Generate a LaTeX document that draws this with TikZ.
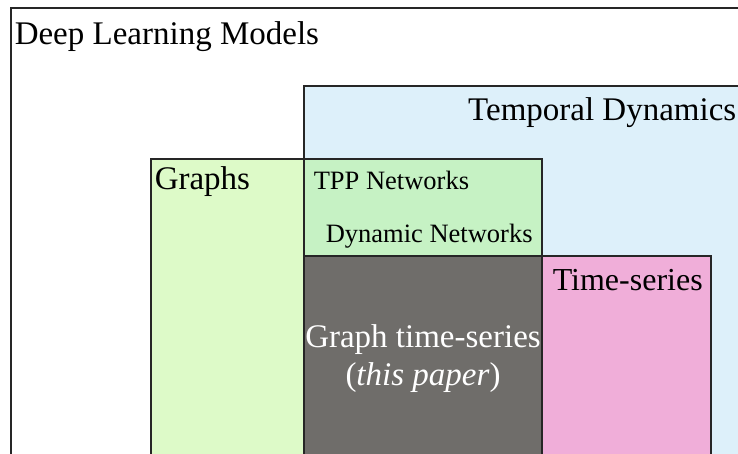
\documentclass[tikz,border=0pt]{standalone}
\usepackage{fontspec}
\setmainfont{Liberation Serif}
\usepackage{xcolor}
\usetikzlibrary{positioning}

\definecolor{tempblue}{HTML}{DDF0FA}
\definecolor{graphgreen}{HTML}{DDFAC8}
\definecolor{tppgreen}{HTML}{C6F2C4}
\definecolor{papergray}{HTML}{6F6D6A}
\definecolor{seriespink}{HTML}{F0AED9}

\begin{document}
\begin{tikzpicture}[
    x=1pt, y=-1pt,
    line width=1.5pt,
    box/.style={draw=black!85},
    big/.style={inner sep=0pt, font=\fontsize{33}{38}\selectfont},
    small/.style={inner sep=0pt, font=\fontsize{26.5}{30}\selectfont}
]

\useasboundingbox (0,0) rectangle (738,454);
\clip (0,0) rectangle (738,454);

% Outer box
\draw[box, fill=white] (11,8) rectangle (760,480);

% Temporal dynamics
\draw[box, fill=tempblue] (304,86) rectangle (760,480);

% Graphs
\draw[box, fill=graphgreen] (151,159) rectangle (330,480);

% TPP / dynamic networks
\draw[box, fill=tppgreen] (304,159) rectangle (542,256);

% This paper
\draw[box, fill=papergray] (304,256) rectangle (542,480);

% Time-series
\draw[box, fill=seriespink] (542,256) rectangle (711,480);

% Labels
\node[big, anchor=base west] (dlm) at (14,45) {Deep Learning Models};
\node[big, anchor=base east] (temporal) at (737,121) {Temporal Dynamics};
\node[big, anchor=base west] (graphs) at (154,190) {Graphs};
\node[small, anchor=base west] (tpp) at (313,190) {TPP Networks};
\node[small, anchor=base west] (dynnet) at (325,243) {Dynamic Networks};
\node[big, font=\fontsize{32}{36}\selectfont, anchor=base west] (tseries) at (552,290) {Time-series};
\node[big, anchor=base, text=white] (gts) at (423,347) {Graph time-series};
\node[big, anchor=base, text=white] (paper) at (423,385) {(\textit{this paper})};
\end{tikzpicture}
\end{document}
